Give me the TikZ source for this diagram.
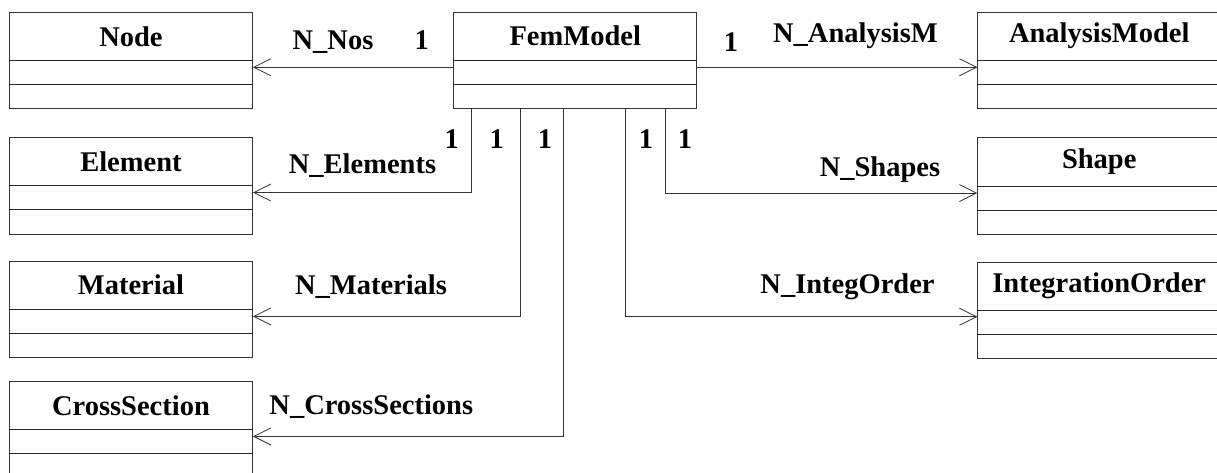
\documentclass[tikz,border=0pt]{standalone}
\usepackage{fontspec}
\setmainfont{Liberation Serif}
\usetikzlibrary{arrows.meta}
\tikzset{
  clsbox/.style={draw=black!80, line width=0.9pt, minimum width=243pt, minimum height=96.6pt, inner sep=0pt, anchor=north west},
  clstext/.style={font=\bfseries\fontsize{28.5}{32}\selectfont, inner sep=0pt, anchor=base},
  clsline/.style={draw=black!85, line width=0.9pt},
  lbl/.style={font=\bfseries\fontsize{28.5}{32}\selectfont, inner sep=0pt, anchor=base},
  assoc/.style={draw=black!80, line width=0.9pt, -{Straight Barb[length=17pt,width=17pt,line width=0.8pt]}},
  link/.style={draw=black!80, line width=0.9pt}
}
\newcommand\umlcls[5]{%
  \node[clsbox] (#1) at (#2,#3) {};
  \node[clstext] (#1-t) at ([yshift=-#5pt]#1.north) {#4};
  \draw[clsline] ([yshift=-48.7pt]#1.north west) -- ([yshift=-48.7pt]#1.north east);
  \draw[clsline] ([yshift=-72.7pt]#1.north west) -- ([yshift=-72.7pt]#1.north east);
}
\begin{document}
\begin{tikzpicture}[x=1pt,y=-1pt]
\useasboundingbox (0,0) rectangle (1217,473);
\clip (0,0) rectangle (1217,473);
\fill[white] (0,0) rectangle (1217,473);
% classes
\umlcls{node}{9}{11.7}{Node}{35}
\umlcls{element}{9}{137}{Element}{34.7}
\umlcls{material}{9}{260.7}{Material}{33.8}
\umlcls{cross}{9}{380.7}{CrossSection}{34.3}
\umlcls{fem}{453.3}{11.7}{FemModel}{34}
\umlcls{ana}{977.3}{11.7}{AnalysisModel}{31}
\umlcls{shape}{977.3}{137.3}{Shape}{31}
\umlcls{integ}{977.3}{261.7}{IntegrationOrder}{31}
% connectors
\draw[assoc] ([yshift=-6.8pt]fem.west) -- ([yshift=-6.8pt]node.east);
\draw[assoc] ([yshift=-6.8pt]fem.east) -- ([yshift=-6.8pt]ana.east -| ana.west);
\draw[assoc] ([xshift=18.4pt]fem.south west) |- ([yshift=-6.8pt]element.east);
\draw[assoc] ([xshift=67.4pt]fem.south west) |- ([yshift=-7pt]material.east);
\draw[assoc] ([xshift=110pt]fem.south west) |- ([yshift=-7pt]cross.east);
\draw[assoc] ([xshift=172.4pt]fem.south west) |- ([yshift=-6.3pt]integ.west);
\draw[assoc] ([xshift=211.7pt]fem.south west) |- ([yshift=-7pt]shape.west);
% labels
\node[lbl] (lnos) at (333,50) {N\_Nos};
\node[lbl] (mnos) at (421.7,50) {1};
\node[lbl] (lana) at (855.5,42.7) {N\_AnalysisM};
\node[lbl] (mana) at (731,52) {1};
\node[lbl] (lelem) at (362.5,173.3) {N\_Elements};
\node[lbl] (lshape) at (880,176) {N\_Shapes};
\node[lbl] (lmat) at (371,294.3) {N\_Materials};
\node[lbl] (lcross) at (371.3,414) {N\_CrossSections};
\node[lbl] (lint) at (847.5,293.3) {N\_IntegOrder};
\node[lbl] (melem) at (451.7,148.3) {1};
\node[lbl] (mmat) at (496.7,148.3) {1};
\node[lbl] (mcross) at (545,148.3) {1};
\node[lbl] (mint) at (646,148.3) {1};
\node[lbl] (mshape) at (685,148.3) {1};
\end{tikzpicture}
\end{document}
